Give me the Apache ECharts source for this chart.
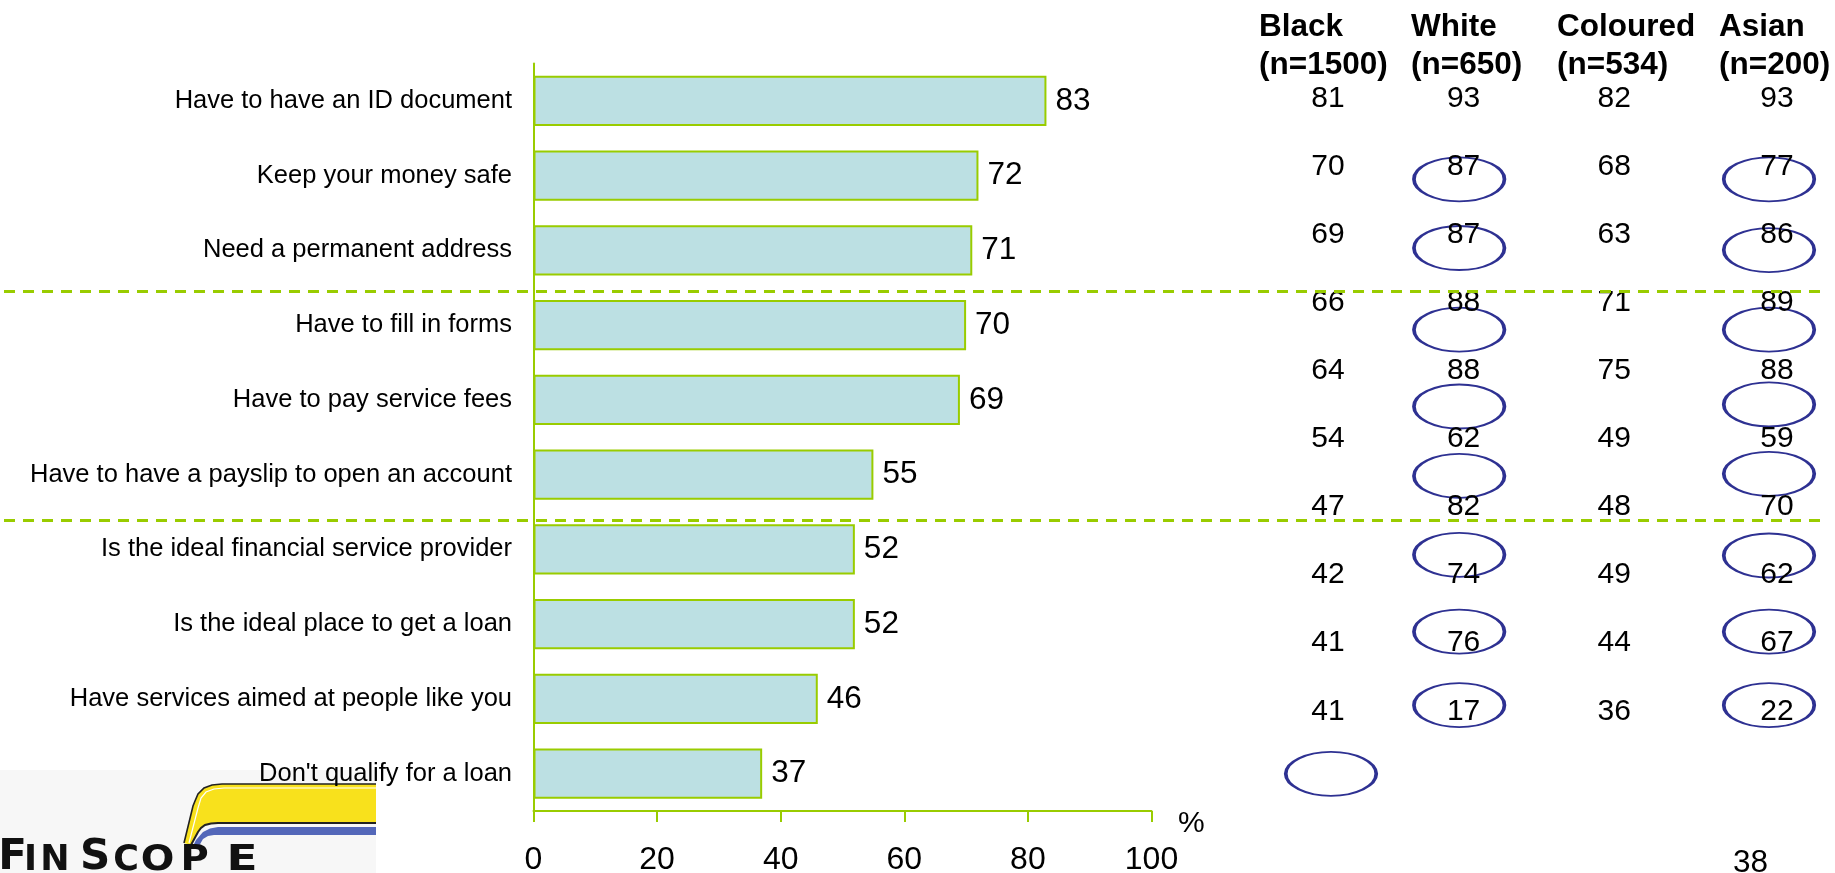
<!DOCTYPE html>
<html>
<head>
<meta charset="utf-8">
<script src="https://cdn.jsdelivr.net/npm/echarts@6/dist/echarts.min.js"></script>
<style>
  html, body { margin: 0; padding: 0; background: #fff; }
  #chart { width: 1835px; height: 873px; }
</style>
</head>
<body>
<div id="chart"></div>
<script>
// Perceived barriers to banking, % agreeing (total), with breakdown by population group
const categories = [
  'Have to have an ID document',
  'Keep your money safe',
  'Need a permanent address',
  'Have to fill in forms',
  'Have to pay service fees',
  'Have to have a payslip to open an account',
  'Is the ideal financial service provider',
  'Is the ideal place to get a loan',
  'Have services aimed at people like you',
  "Don't qualify for a loan"
];
const totalShare = [83, 72, 71, 70, 69, 55, 52, 52, 46, 37];
const xTicks = [0, 20, 40, 60, 80, 100];
const axisUnit = '%';

// group breaks in the statement list (after these many rows)
const groupBreaks = [3, 6];

// population groups and their sample sizes
const groups = ['Black', 'White', 'Coloured', 'Asian'];
const groupSizes = [1500, 650, 534, 200];
const blackShare    = [81, 70, 69, 66, 64, 54, 47, 42, 41, 41];
const whiteShare    = [93, 87, 87, 88, 88, 62, 82, 74, 76, 17];
const colouredShare = [82, 68, 63, 71, 75, 49, 48, 49, 44, 36];
const asianShare    = [93, 77, 86, 89, 88, 59, 70, 62, 67, 22];

// hand-drawn highlight ovals, in table-row units (row 1 = first statement)
const whiteOvalRows = [2.18, 3.19, 4.39, 5.52, 6.54, 7.70, 8.83, 9.91];
const asianOvalRows = [2.18, 3.22, 4.39, 5.49, 6.51, 7.71, 8.83, 9.91];
const blackOvalRows = [10.92];

const pageNumber = '38';

const FONT = '"Liberation Sans", Arial, Helvetica, sans-serif';
const GREEN = '#99CC00';
const OVAL = '#2E3192';
const ovalPath = 'path://M0,50 C0,22.4 22.4,0 50,0 C77.6,0 100,22.4 100,50 C100,77.6 77.6,100 50,100 C22.4,100 0,77.6 0,50 Z';

const groupShares = [blackShare, whiteShare, colouredShare, asianShare];
const valueOffsets = [[0, 0], [-14.4, 0], [-13.7, 0], [-1, 0]];

const tableSeries = groups.map((g, i) => ({
  type: 'scatter',
  name: g,
  xAxisIndex: 1,
  yAxisIndex: 1,
  symbolSize: 1,
  itemStyle: { color: 'rgba(0,0,0,0)', opacity: 1 },
  silent: true,
  label: {
    show: true,
    position: 'inside',
    offset: valueOffsets[i],
    formatter: p => String(p.value[2]),
    fontFamily: FONT,
    fontSize: 30,
    color: '#000',
    textBorderWidth: 0,
    opacity: 1
  },
  data: groupShares[i].map((v, r) => [g, r + 1, v])
}));

function ovalSeries(group, rows, offset) {
  return {
    type: 'scatter',
    xAxisIndex: 1,
    yAxisIndex: 1,
    silent: true,
    symbol: ovalPath,
    symbolSize: [90.5, 44],
    symbolOffset: offset,
    itemStyle: { color: 'rgba(0,0,0,0)', borderColor: OVAL, borderWidth: 2.6, opacity: 1 },
    data: rows.map(r => [group, r])
  };
}

const headerLefts = [1259, 1411, 1557, 1719];

// logo outline pieces
const swooshOuter = [[376,784],[222,784],[212,785],[204,788],[198,794],[195,801],[193,806],[184,843]];
const swooshInner = [[191,845],[198,832],[201,828],[205,825],[211,823.5],[218,823],[376,823]];
const swooshHighlight = [[376,788],[224,788],[214,789],[206,792],[201,798],[198,808],[189,843]];
const blueBand = [[376,827],[218,827],[210,828.5],[203,832],[196,840],[193,846],[199,846],[203,839],[208,836],[214,835],[220,835],[376,835]];

function letter(ch, x, y, size, stretch) {
  return {
    type: 'text',
    x: x,
    y: y,
    scaleX: stretch || 1,
    style: { text: ch, x: 0, y: 0, align: 'center', verticalAlign: 'top', font: '600 ' + size + 'px "DejaVu Sans"', fill: '#111' }
  };
}

const chart = echarts.init(document.getElementById('chart'), null, { renderer: 'canvas' });

chart.setOption({
  animation: false,
  backgroundColor: '#fff',
  title: groups.map((g, i) => ({
    text: g + '\n(n=' + groupSizes[i] + ')',
    left: headerLefts[i],
    top: 8,
    padding: 0,
    textStyle: { fontFamily: FONT, fontSize: 31.5, fontWeight: 'bold', lineHeight: 38.5, color: '#000' }
  })).concat([{
    text: pageNumber,
    left: 1733,
    top: 847.5,
    padding: 0,
    textStyle: { fontFamily: FONT, fontSize: 31.5, fontWeight: 'normal', lineHeight: 31.5, color: '#000' }
  }]),
  grid: [
    { left: 533.5, top: 63.5, width: 618, height: 747.5, containLabel: false, outerBoundsMode: 'none' },
    { left: 1253, top: 65, width: 600, height: 748.3, containLabel: false, outerBoundsMode: 'none' },
    { left: 4, top: 62, width: 1818, height: 763.3, containLabel: false, outerBoundsMode: 'none' }
  ],
  xAxis: [
    {
      type: 'value',
      gridIndex: 0,
      min: xTicks[0],
      max: xTicks[xTicks.length - 1],
      interval: xTicks[1] - xTicks[0],
      name: axisUnit,
      nameLocation: 'end',
      nameGap: 26.5,
      nameTextStyle: { fontFamily: FONT, fontSize: 30, color: '#000', align: 'left', verticalAlign: 'top', lineHeight: 26 },
      axisLine: { show: true, lineStyle: { color: GREEN, width: 2 } },
      axisTick: { show: true, length: 11, lineStyle: { color: GREEN, width: 2 } },
      splitLine: { show: false },
      axisLabel: { fontFamily: FONT, fontSize: 32, color: '#000', margin: 33 }
    },
    { type: 'category', gridIndex: 1, data: groups, show: false },
    { type: 'value', gridIndex: 2, min: 0, max: 1, show: false }
  ],
  yAxis: [
    {
      type: 'category',
      gridIndex: 0,
      data: categories,
      inverse: true,
      axisLine: { show: true, lineStyle: { color: GREEN, width: 2 } },
      axisTick: { show: false },
      splitLine: { show: false },
      axisLabel: { fontFamily: FONT, fontSize: 25.5, color: '#000', margin: 21.5 }
    },
    { type: 'value', gridIndex: 1, inverse: true, min: 0.5, max: 11.5, show: false },
    { type: 'value', gridIndex: 2, inverse: true, min: 0, max: categories.length, show: false }
  ],
  series: [
    {
      type: 'bar',
      name: 'Total',
      xAxisIndex: 0,
      yAxisIndex: 0,
      data: totalShare,
      barCategoryGap: '33%',
      itemStyle: { color: '#BCE0E3', borderColor: GREEN, borderWidth: 2 },
      label: {
        show: true,
        position: 'right',
        distance: 9,
        fontFamily: FONT,
        fontSize: 31.5,
        color: '#000'
      }
    },
    {
      type: 'line',
      xAxisIndex: 2,
      yAxisIndex: 2,
      data: [],
      silent: true,
      markLine: {
        silent: true,
        symbol: ['none', 'none'],
        label: { show: false },
        lineStyle: { color: GREEN, width: 3, type: [11, 8], opacity: 1 },
        data: groupBreaks.map(b => ({ yAxis: b }))
      }
    }
  ].concat(tableSeries).concat([
    ovalSeries('White', whiteOvalRows, [-18.8, 0]),
    ovalSeries('Asian', asianOvalRows, [-9, 0]),
    ovalSeries('Black', blackOvalRows, [3, 0])
  ]),
  graphic: [
    {
      type: 'group',
      z: -10,
      silent: true,
      children: [
        { type: 'rect', shape: { x: 0, y: 770, width: 376, height: 103 }, style: { fill: '#F7F7F7' } },
        { type: 'polygon', shape: { points: swooshOuter.concat(swooshInner) }, style: { fill: '#F8E11C' } },
        { type: 'polyline', shape: { points: swooshOuter }, style: { stroke: '#222', lineWidth: 1.6, fill: null } },
        { type: 'polyline', shape: { points: swooshHighlight }, style: { stroke: '#ffffff', lineWidth: 1.2, fill: null } },
        { type: 'polyline', shape: { points: swooshInner }, style: { stroke: '#222', lineWidth: 2, fill: null } },
        { type: 'polygon', shape: { points: blueBand }, style: { fill: '#5367B9' } },
        letter('F', 12.5, 837, 42),
        letter('I', 30.5, 843, 35),
        letter('N', 55, 843, 35),
        letter('S', 95, 837, 42),
        letter('C', 126, 843, 35),
        letter('O', 157.5, 843, 35, 1.13),
        letter('P', 194.5, 843, 35, 1.1),
        letter('E', 242, 843, 35, 1.3)
      ]
    }
  ]
});
</script>
</body>
</html>
